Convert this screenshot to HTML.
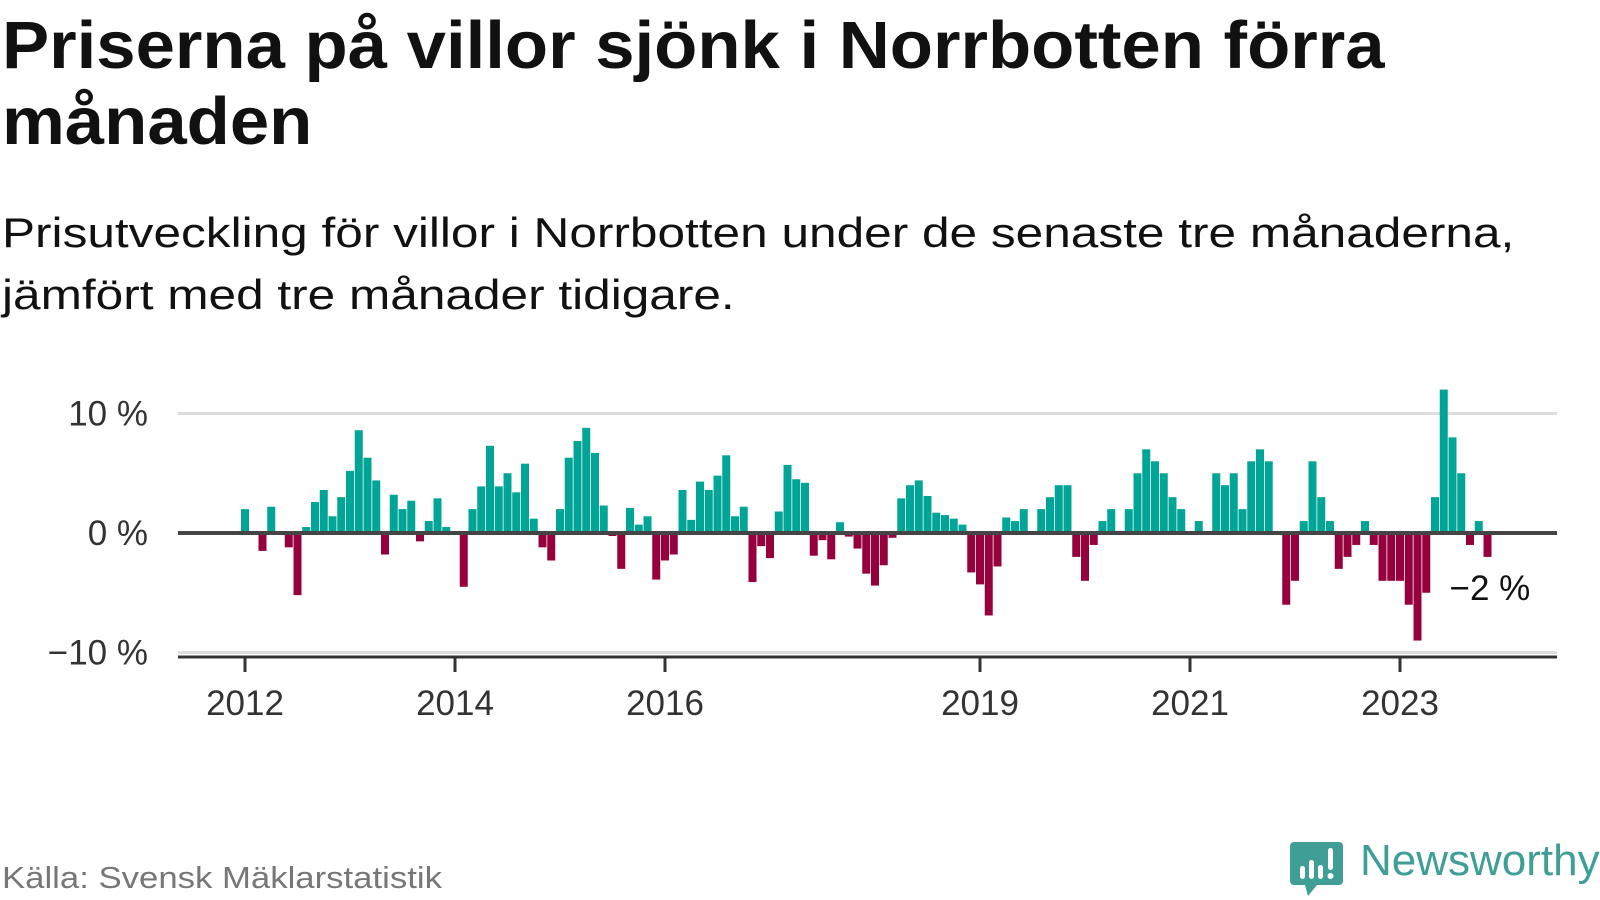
<!DOCTYPE html>
<html><head><meta charset="utf-8"><style>
html,body{margin:0;padding:0;background:#fff;}
body{width:1600px;height:900px;position:relative;overflow:hidden;font-family:"Liberation Sans","DejaVu Sans",sans-serif;}
.t{position:absolute;left:2px;margin:0;white-space:nowrap;transform-origin:0 0;}
</style></head><body>
<div class="t" style="top:8px;font-size:67px;font-weight:bold;line-height:76px;color:#111;transform:scaleX(1.055);">Priserna på villor sjönk i Norrbotten förra<br>månaden</div>
<div class="t" style="top:202px;font-size:42px;line-height:62px;color:#111;transform:scaleX(1.18);">Prisutveckling för villor i Norrbotten under de senaste tre månaderna,<br>jämfört med tre månader tidigare.</div>
<svg id="chart" width="1600" height="900" style="position:absolute;left:0;top:0" xmlns="http://www.w3.org/2000/svg"></svg>
<div class="t" style="top:860px;font-size:31px;color:#777;transform:scaleX(1.12);">Källa: Svensk Mäklarstatistik</div>
<svg style="position:absolute;left:1286px;top:838px" width="314" height="62" xmlns="http://www.w3.org/2000/svg">
<path d="M8 4 h45 a4 4 0 0 1 4 4 v35 a4 4 0 0 1 -4 4 h-22 l-9 11 l-3 -11 h-11 a4 4 0 0 1 -4 -4 v-35 a4 4 0 0 1 4 -4z" fill="#3f9e96"/>
<rect x="14" y="28" width="5" height="13" rx="2.5" fill="#fff"/><rect x="23" y="22" width="5" height="19" rx="2.5" fill="#fff"/><rect x="32" y="27" width="5" height="14" rx="2.5" fill="#fff"/><rect x="42" y="10" width="5" height="22" rx="2.5" fill="#fff"/><circle cx="44.5" cy="38" r="3" fill="#fff"/>
<text x="74" y="37" font-family="Liberation Sans, sans-serif" font-size="44" fill="#3f9e96">Newsworthy</text>
</svg>
<script>
const values = [2,0,-1.5,2.2,0,-1.2,-5.2,0.5,2.6,3.6,1.4,3.0,5.2,8.6,6.3,4.4,-1.8,3.2,2.0,2.7,-0.7,1.0,2.9,0.5,0,-4.5,2.0,3.9,7.3,3.9,5.0,3.4,5.8,1.2,-1.2,-2.3,2.0,6.3,7.7,8.8,6.7,2.3,-0.25,-3.0,2.1,0.7,1.4,-3.9,-2.3,-1.8,3.6,1.1,4.3,3.6,4.8,6.5,1.4,2.2,-4.1,-1.1,-2.1,1.8,5.7,4.5,4.2,-1.9,-0.6,-2.2,0.9,-0.3,-1.3,-3.4,-4.4,-2.7,-0.4,2.9,4.0,4.4,3.1,1.7,1.5,1.2,0.7,-3.3,-4.3,-6.9,-2.8,1.3,1.0,2.0,0,2.0,3.0,4.0,4.0,-2.0,-4.0,-1.0,1.0,2.0,0,2.0,5.0,7.0,6.0,5.0,3.0,2.0,0,1.0,0,5.0,4.0,5.0,2.0,6.0,7.0,6.0,0,-6.0,-4.0,1.0,6.0,3.0,1.0,-3.0,-2.0,-1.0,1.0,-1.0,-4.0,-4.0,-4.0,-6.0,-9.0,-5.0,3.0,12.0,8.0,5.0,-1.0,1.0,-2.0];
const yTicks = [10,0,-10];
const yTickLabels = ["10 %","0 %","\u221210 %"];
const xTickYears = [2012,2014,2016,2019,2021,2023];
const lastLabel = "\u22122 %";
const svg = document.getElementById('chart');
const NS = 'http://www.w3.org/2000/svg';
const x0 = 245, monthW = 8.75, yZero = 533, pxPer = 11.95;
const xs = i => x0 + i*monthW;
const ys = v => yZero - v*pxPer;
function mk(tag, attrs){const e=document.createElementNS(NS,tag);for(const k in attrs)e.setAttribute(k,attrs[k]);svg.appendChild(e);return e;}
yTicks.forEach((t,k)=>{
  if(t!==0){const g=mk('line',{x1:178,x2:1557,y1:ys(t),y2:ys(t),stroke:'#ddd','stroke-width':3});
  
  }
  const tx=mk('text',{x:148,y:ys(t)+12,'text-anchor':'end','font-size':35,fill:'#333','font-family':'Liberation Sans, sans-serif'});
  tx.textContent=yTickLabels[k];
  
  
});
values.forEach((v,i)=>{
  if(v===0) return;
  const top = v>0 ? ys(v) : yZero;
  const r=mk('rect',{x:xs(i)-4,y:top,width:8,height:Math.abs(v)*pxPer,fill:v>0?'#00a597':'#96003c'});
  
  
});
const zl=mk('line',{x1:178,x2:1557,y1:yZero,y2:yZero,stroke:'#444','stroke-width':4});


const ax=mk('line',{x1:178,x2:1557,y1:657,y2:657,stroke:'#333','stroke-width':3});


xTickYears.forEach(yr=>{
  const x=xs((yr-2012)*12);
  const tk=mk('line',{x1:x,x2:x,y1:657,y2:672,stroke:'#333','stroke-width':3});
  
  
  const tx=mk('text',{x:x,y:715,'text-anchor':'middle','font-size':35,fill:'#333','font-family':'Liberation Sans, sans-serif'});
  tx.textContent=yr;
  
  
});
const li=values.length-1;
const lt=mk('text',{x:xs(li)-38,y:ys(values[li])+43,'font-size':35,fill:'#111','font-family':'Liberation Sans, sans-serif'});
lt.textContent=lastLabel;


</script>
</body></html>
